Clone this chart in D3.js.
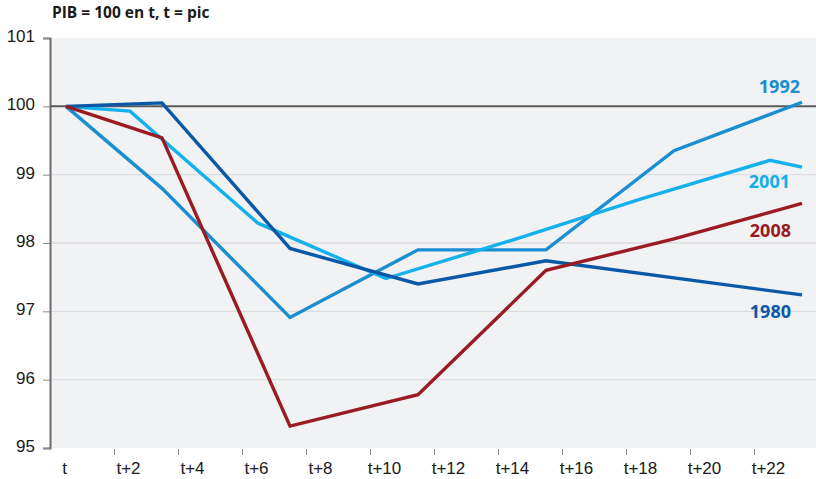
<!DOCTYPE html>
<html>
<head>
<meta charset="utf-8">
<script src="https://cdn.jsdelivr.net/npm/d3@7"></script>
<style>
  body { margin: 0; background: #fff; }
  svg { display: block; font-family: "Open Sans", sans-serif; }
  .axis text { font-size: 17px; fill: #1a1a1a; }
</style>
</head>
<body>
<svg id="chart" width="816" height="479"></svg>
<script>
// quarters after the peak (t = 0)
var xLabels = ["t", "t+2", "t+4", "t+6", "t+8", "t+10", "t+12", "t+14", "t+16", "t+18", "t+20", "t+22"];
var yTicks = [95, 96, 97, 98, 99, 100, 101];

var q1980 = [0, 3, 7, 11, 15, 23];
var v1980 = [100, 100.05, 97.92, 97.4, 97.74, 97.24];

var q1992 = [0, 3, 7, 11, 15, 19, 23];
var v1992 = [100, 98.8, 96.91, 97.9, 97.9, 99.35, 100.06];

var q2001 = [0, 2, 6, 10, 14, 18, 22, 23];
var v2001 = [100, 99.93, 98.29, 97.48, 98.05, 98.65, 99.21, 99.11];

var q2008 = [0, 3, 7, 11, 15, 19, 23];
var v2008 = [100, 99.54, 95.32, 95.78, 97.6, 98.06, 98.58];

var series = [
    {name: "1992", q: q1992, v: v1992, color: "#1a8ed1", labelColor: "#1a8ed1", dx: -2, dy: -9},
    {name: "2001", q: q2001, v: v2001, color: "#14b1ec", labelColor: "#14aee8", dx: -12, dy: 21},
    {name: "2008", q: q2008, v: v2008, color: "#9b1b22", labelColor: "#9b1b22", dx: -11, dy: 34},
    {name: "1980", q: q1980, v: v1980, color: "#0a58a6", labelColor: "#0a58a6", dx: -11, dy: 23}
];

var svg = d3.select("#chart"),
    plotLeft = 50, plotRight = 816, plotTop = 38, plotBottom = 448;

var x = d3.scaleLinear()
    .domain([-0.5, 23.5])
    .range([plotLeft, plotLeft + 32 * 24]);

var y = d3.scaleLinear()
    .domain([95, 101])
    .range([plotBottom, plotTop]);

// plot background
svg.append("rect")
    .attr("x", plotLeft)
    .attr("y", plotTop)
    .attr("width", plotRight - plotLeft)
    .attr("height", plotBottom - plotTop)
    .attr("fill", "#f1f2f4");

// gridlines
svg.append("g")
    .selectAll("line")
    .data([96, 97, 98, 99])
    .enter().append("line")
    .attr("x1", plotLeft)
    .attr("x2", plotRight)
    .attr("y1", function(d) { return y(d); })
    .attr("y2", function(d) { return y(d); })
    .attr("stroke", "#dcdde0")
    .attr("stroke-width", 1.3);

// y axis
var yAxis = svg.append("g")
    .attr("class", "axis")
    .attr("transform", "translate(" + plotLeft + ",0)")
    .call(d3.axisLeft(y).tickValues(yTicks).tickSize(7).tickPadding(8).tickFormat(d3.format("d")));
yAxis.select(".domain").attr("stroke", "#6b6b6b").attr("stroke-width", 2);
yAxis.selectAll(".tick line").attr("stroke", "#8a8a8a");
yAxis.selectAll(".tick text").attr("dy", "0.2em");

// x axis: labels every two quarters, tick marks on the band edges
var xAxis = svg.append("g")
    .attr("class", "axis")
    .attr("transform", "translate(0," + plotBottom + ")")
    .call(d3.axisBottom(x)
        .tickValues(d3.range(0, 24, 2))
        .tickSize(7)
        .tickPadding(7)
        .tickFormat(function(d, i) { return xLabels[i]; }));
xAxis.select(".domain").remove();
xAxis.selectAll(".tick line")
    .attr("x1", -16).attr("x2", -16)
    .attr("y1", 1)
    .attr("stroke", "#8a8a8a")
    .filter(function(d) { return d === 0; }).remove();
xAxis.selectAll(".tick text").attr("x", -2);

// reference line at 100
svg.append("line")
    .attr("x1", plotLeft)
    .attr("x2", plotRight)
    .attr("y1", y(100))
    .attr("y2", y(100))
    .attr("stroke", "#5a5a5a")
    .attr("stroke-width", 2);

var line = d3.line()
    .x(function(d) { return x(d[0]); })
    .y(function(d) { return y(d[1]); });

// 2008 drawn last, on top
var drawOrder = [series[0], series[1], series[3], series[2]];

svg.append("g")
    .selectAll("path")
    .data(drawOrder)
    .enter().append("path")
    .attr("d", function(s) { return line(d3.zip(s.q, s.v)); })
    .attr("fill", "none")
    .attr("stroke", function(s) { return s.color; })
    .attr("stroke-width", 3.4)
    .attr("stroke-linejoin", "miter");

// series labels near the line ends
svg.append("g")
    .selectAll("text")
    .data(series)
    .enter().append("text")
    .attr("x", function(s) { return x(s.q[s.q.length - 1]) + s.dx; })
    .attr("y", function(s) { return y(s.v[s.v.length - 1]) + s.dy; })
    .attr("text-anchor", "end")
    .attr("font-size", 18)
    .attr("font-weight", "bold")
    .attr("fill", function(s) { return s.labelColor; })
    .text(function(s) { return s.name; });

// title
svg.append("text")
    .attr("x", 52)
    .attr("y", 18)
    .attr("font-size", 15.5)
    .attr("font-weight", "bold")
    .attr("fill", "#1a1a1a")
    .text("PIB = 100 en t, t = pic");
</script>
</body>
</html>
